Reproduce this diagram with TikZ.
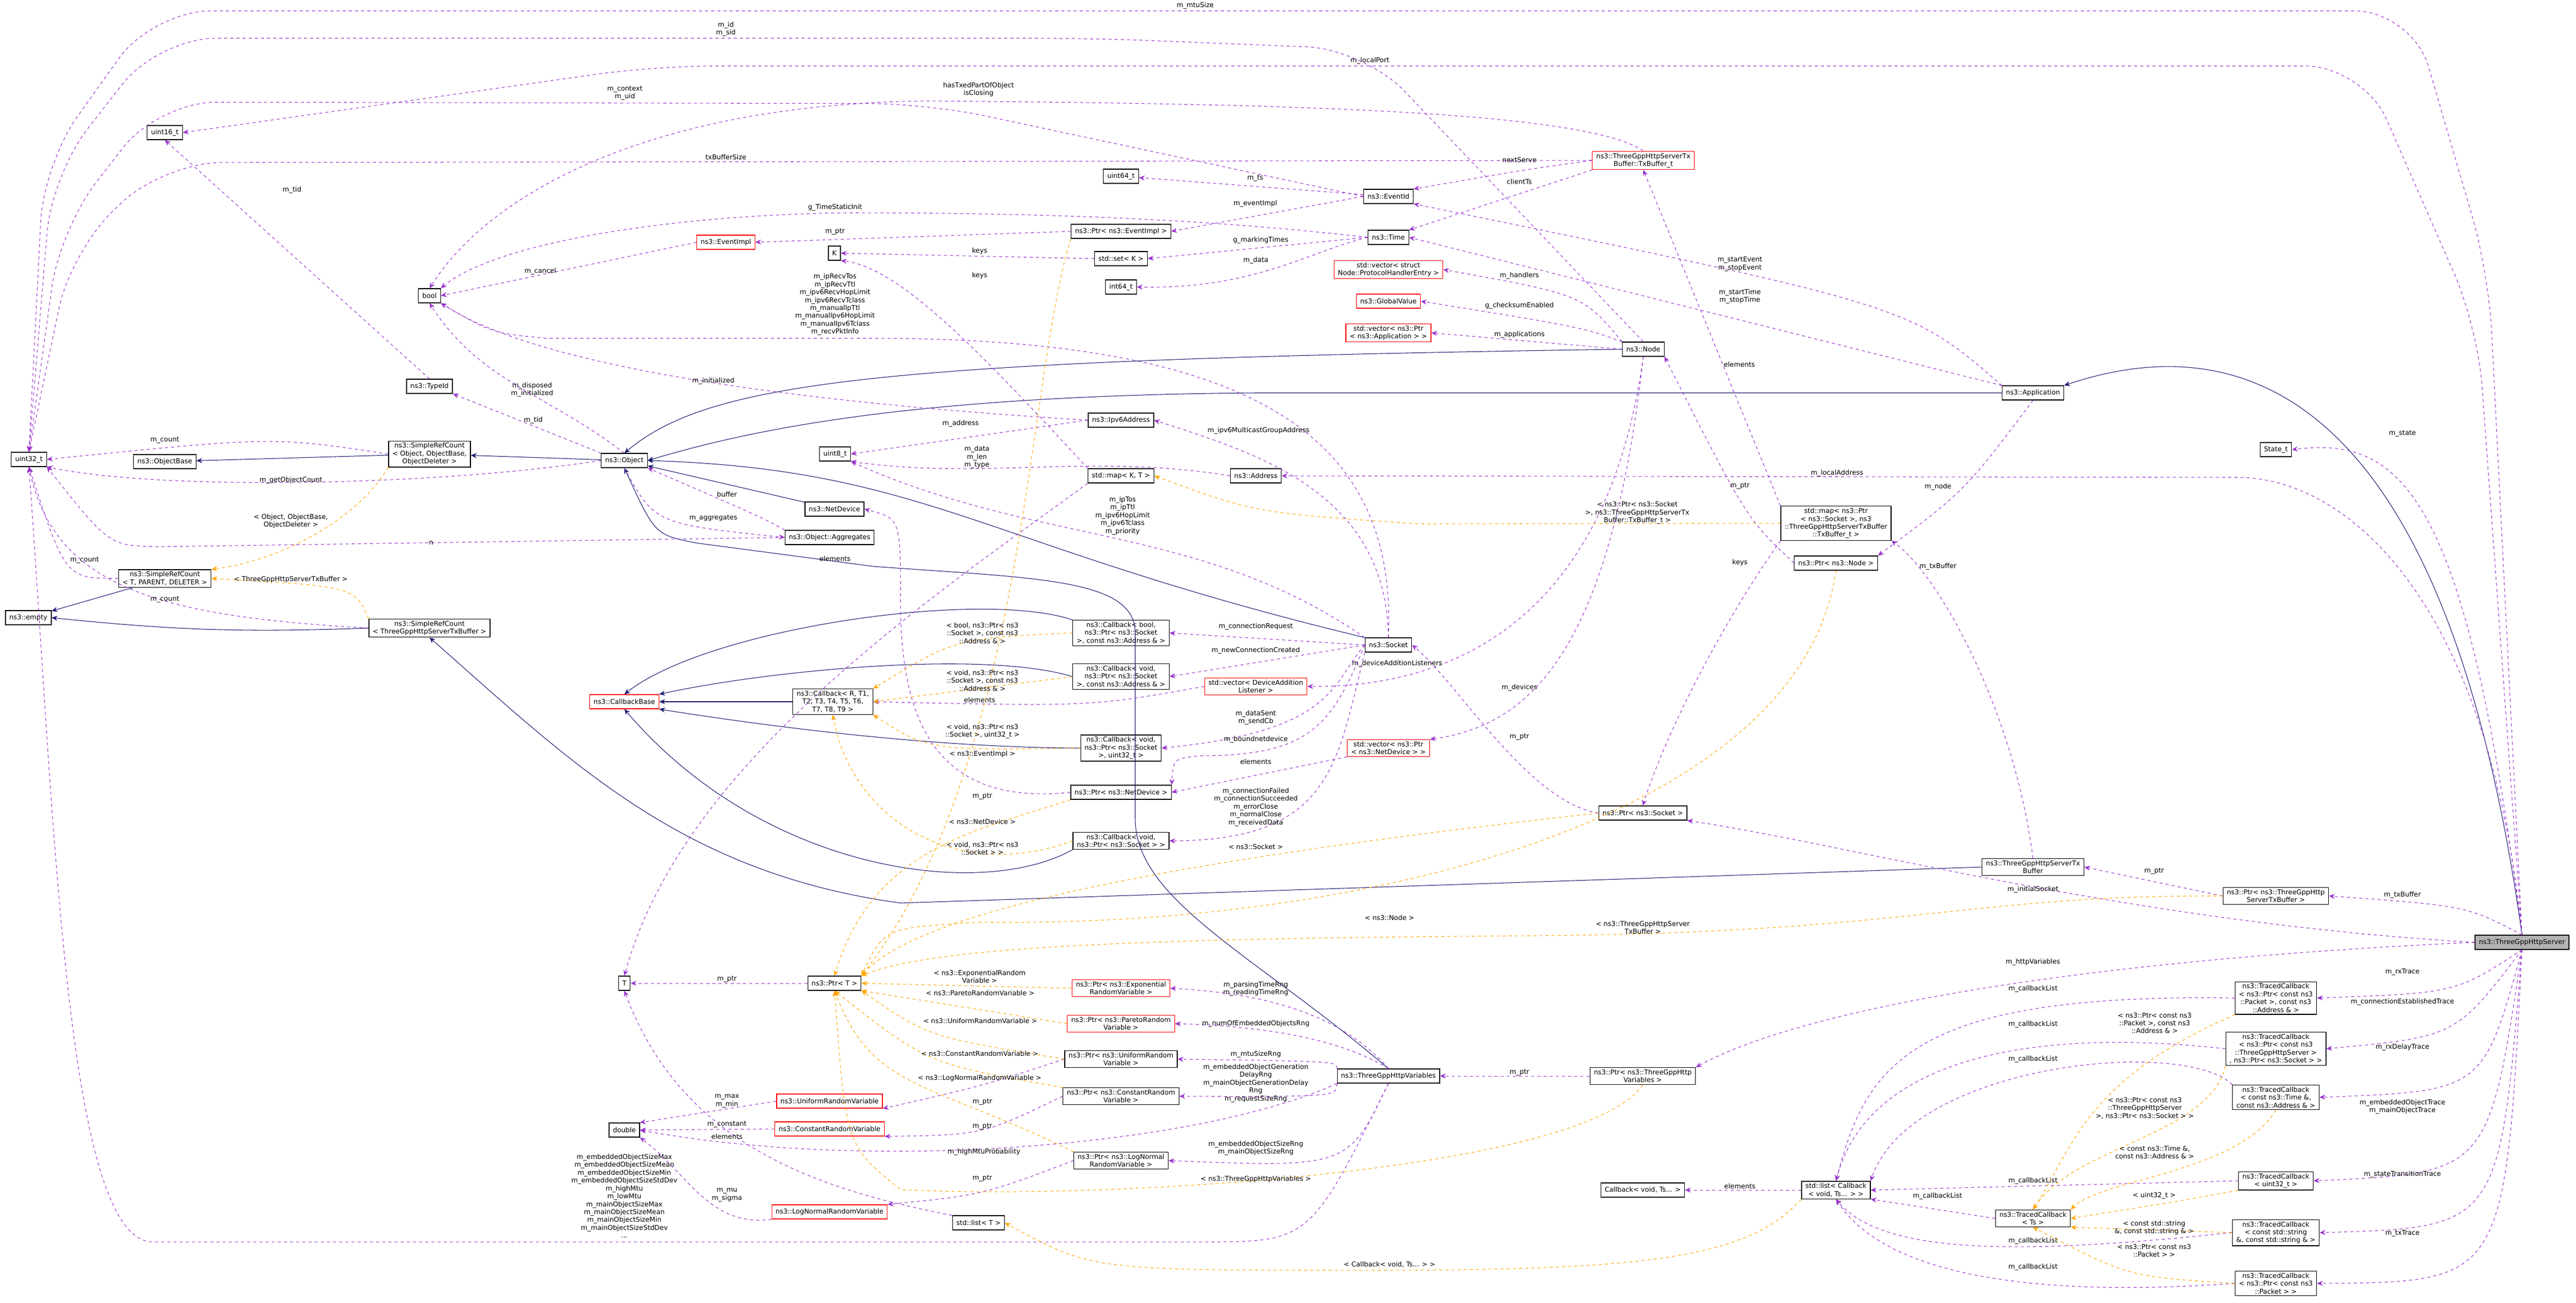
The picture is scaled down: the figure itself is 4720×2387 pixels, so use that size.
\documentclass[tikz,border=0pt]{standalone}
\usepackage{fontspec}
\setmainfont{DejaVu Sans}
\usetikzlibrary{arrows.meta,positioning}
\definecolor{edgepurple}{HTML}{9A32CD}
\definecolor{edgenavy}{HTML}{191970}
\definecolor{edgeorange}{HTML}{FFA500}
\newcommand{\dxfont}{\fontsize{3.5}{4.1}\selectfont}
\tikzset{
    cls/.style={
    rectangle,draw=black,fill=white,font=\dxfont,align=center,inner xsep=2pt,inner ysep=1pt,minimum height=7.4pt,line width=0.35pt
    },
    rcls/.style={
    cls,draw=red
    },
    hcls/.style={
    cls,fill=black!30
    },
    member/.style={
    draw=edgepurple,dash pattern=on 1.6pt off 1.6pt,line width=0.3pt,-{Stealth[length=3pt,width=2.6pt]}
    },
    templ/.style={
    member,draw=edgeorange
    },
    inherit/.style={
    draw=edgenavy,line width=0.3pt,-{Stealth[length=3pt,width=2.6pt]}
    },
    lbl/.style={
    font=\dxfont,align=center,inner sep=0.8pt
    },
}
\begin{document}
\begin{tikzpicture}[x=0.01cm,y=-0.01cm]
  \useasboundingbox (0,0) rectangle (4720,2387);
  % classes, left part
  \node[cls] (uint32) at (53,842) {uint32\_t};
  \node[cls] (uint16) at (302,243) {uint16\_t};
  \node[cls] (bool) at (787,542) {bool};
  \node[rcls] (evimpl) at (1330,444) {ns3::EventImpl};
  \node[cls] (K) at (1529,464) {K};
  \node[cls] (typeid) at (787,708) {ns3::TypeId};
  \node[cls] (srcobj) at (787,832) {ns3::SimpleRefCount\\< Object, ObjectBase,\\ObjectDeleter >};
  \node[cls] (objbase) at (302,846) {ns3::ObjectBase};
  \node[cls] (object) at (1144,844) {ns3::Object};
  \node[cls] (uint8) at (1530,832) {uint8\_t};
  \node[cls] (netdev) at (1529,933) {ns3::NetDevice};
  \node[cls] (aggr) at (1520,985) {ns3::Object::Aggregates};
  \node[cls] (srctpd) at (302,1060) {ns3::SimpleRefCount\\< T, PARENT, DELETER >};
  \node[cls] (empty) at (52,1132) {ns3::empty};
  \node[cls] (srctx) at (787,1151) {ns3::SimpleRefCount\\< ThreeGppHttpServerTxBuffer >};
  \node[rcls] (cbbase) at (1144,1286) {ns3::CallbackBase};
  \node[cls] (cbR) at (1526,1286) {ns3::Callback< R, T1,\\T2, T3, T4, T5, T6,\\T7, T8, T9 >};
  \node[cls] (ptrT) at (1529,1802) {ns3::Ptr< T >};
  \node[cls] (T) at (1144,1802) {T};
  \node[cls] (double) at (1144,2071) {double};
  \node[rcls] (unirv) at (1520,2018) {ns3::UniformRandomVariable};
  \node[rcls] (constrv) at (1520,2069) {ns3::ConstantRandomVariable};
  \node[rcls] (lognrv) at (1520,2221) {ns3::LogNormalRandomVariable};
  % classes, middle part
  \node[rcls] (txbt) at (3011,294) {ns3::ThreeGppHttpServerTx\\Buffer::TxBuffer\_t};
  \node[cls] (uint64) at (2054,323) {uint64\_t};
  \node[cls] (eventid) at (2544,360) {ns3::EventId};
  \node[cls] (ptrevimpl) at (2054,424) {ns3::Ptr< ns3::EventImpl >};
  \node[cls] (time) at (2544,435) {ns3::Time};
  \node[cls] (setK) at (2054,474) {std::set< K >};
  \node[cls] (int64) at (2054,526) {int64\_t};
  \node[rcls] (vecphe) at (2544,494) {std::vector< struct\\Node::ProtocolHandlerEntry >};
  \node[rcls] (globalval) at (2544,552) {ns3::GlobalValue};
  \node[rcls] (vecapp) at (2544,610) {std::vector< ns3::Ptr\\< ns3::Application > >};
  \node[cls] (node) at (3011,640) {ns3::Node};
  \node[cls] (ipv6) at (2054,770) {ns3::Ipv6Address};
  \node[cls] (mapKT) at (2054,872) {std::map< K, T >};
  \node[cls] (address) at (2301,872) {ns3::Address};
  \node[cls] (socket) at (2544,1182) {ns3::Socket};
  \node[cls] (cbbool) at (2054,1160) {ns3::Callback< bool,\\ns3::Ptr< ns3::Socket\\>, const ns3::Address \& >};
  \node[cls] (cbvaddr) at (2054,1240) {ns3::Callback< void,\\ns3::Ptr< ns3::Socket\\>, const ns3::Address \& >};
  \node[rcls] (veclist) at (2301,1258) {std::vector< DeviceAddition\\Listener >};
  \node[cls] (cbvu32) at (2054,1371) {ns3::Callback< void,\\ns3::Ptr< ns3::Socket\\>, uint32\_t >};
  \node[rcls] (vecnd) at (2544,1371) {std::vector< ns3::Ptr\\< ns3::NetDevice > >};
  \node[cls] (ptrnd) at (2054,1452) {ns3::Ptr< ns3::NetDevice >};
  \node[cls] (ptrsock) at (3010,1490) {ns3::Ptr< ns3::Socket >};
  \node[cls] (cbvsock) at (2054,1541) {ns3::Callback< void,\\ns3::Ptr< ns3::Socket > >};
  \node[rcls] (ptrexp) at (2054,1811) {ns3::Ptr< ns3::Exponential\\RandomVariable >};
  \node[rcls] (ptrpar) at (2054,1876) {ns3::Ptr< ns3::ParetoRandom\\Variable >};
  \node[cls] (ptruni) at (2054,1941) {ns3::Ptr< ns3::UniformRandom\\Variable >};
  \node[cls] (vars) at (2544,1972) {ns3::ThreeGppHttpVariables};
  \node[cls] (ptrvars) at (3010,1972) {ns3::Ptr< ns3::ThreeGppHttp\\Variables >};
  \node[cls] (ptrconst) at (2054,2009) {ns3::Ptr< ns3::ConstantRandom\\Variable >};
  \node[cls] (ptrlogn) at (2054,2127) {ns3::Ptr< ns3::LogNormal\\RandomVariable >};
  \node[cls] (listT) at (1793,2241) {std::list< T >};
  \node[cls] (cbvts) at (3010,2181) {Callback< void, Ts... >};
  % classes, right part
  \node[cls] (app) at (3725,720) {ns3::Application};
  \node[cls] (statet) at (4170,824) {State\_t};
  \node[cls] (mapsock) at (3364,959) {std::map< ns3::Ptr\\< ns3::Socket >, ns3\\::ThreeGppHttpServerTxBuffer\\::TxBuffer\_t >};
  \node[cls] (ptrnode) at (3364,1032) {ns3::Ptr< ns3::Node >};
  \node[cls] (txbuf) at (3725,1589) {ns3::ThreeGppHttpServerTx\\Buffer};
  \node[cls] (ptrtxbuf) at (4170,1642) {ns3::Ptr< ns3::ThreeGppHttp\\ServerTxBuffer >};
  \node[hcls] (srv) at (4621,1727) {ns3::ThreeGppHttpServer};
  \node[cls] (tc1) at (4170,1829) {ns3::TracedCallback\\< ns3::Ptr< const ns3\\::Packet >, const ns3\\::Address \& >};
  \node[cls] (tc2) at (4170,1922) {ns3::TracedCallback\\< ns3::Ptr< const ns3\\::ThreeGppHttpServer >\\, ns3::Ptr< ns3::Socket > >};
  \node[cls] (tc3) at (4170,2011) {ns3::TracedCallback\\< const ns3::Time \&,\\const ns3::Address \& >};
  \node[cls] (tc4) at (4170,2164) {ns3::TracedCallback\\< uint32\_t >};
  \node[cls] (listcb) at (3364,2181) {std::list< Callback\\< void, Ts... > >};
  \node[cls] (tcts) at (3725,2233) {ns3::TracedCallback\\< Ts >};
  \node[cls] (tc5) at (4170,2259) {ns3::TracedCallback\\< const std::string\\\&, const std::string \& >};
  \node[cls] (tc6) at (4170,2352) {ns3::TracedCallback\\< ns3::Ptr< const ns3\\::Packet > >};

  % inheritance
  \draw[inherit] (srcobj) -- (objbase);
  \draw[inherit] (object) -- (srcobj);
  \draw[inherit] (node.west) .. controls (1600,660) and (1300,700) .. (object.north);
  \draw[inherit] (app.west) -- (2300,720) .. controls (1700,725) and (1400,780) .. (object.east);
  \draw[inherit] (netdev) -- (object);
  \draw[inherit] (socket.north west) .. controls (1800,1000) and (1700,860) .. (object.east);
  \draw[inherit] (vars.north) .. controls (2300,1750) and (2080,1650) .. (2080,1500) -- (2080,1160) .. controls (2080,1060) and (1900,1060) .. (1600,1038) -- (1275,995) .. controls (1200,980) .. (object.south);
  \draw[inherit] (srctpd) -- (empty);
  \draw[inherit] (srctx.west) to[bend left=4] (empty.east);
  \draw[inherit] (txbuf.west) -- (1650,1655) .. controls (1250,1600) and (1050,1400) .. (srctx.south);
  \draw[inherit] (cbbool.north west) .. controls (1800,1080) and (1300,1150) .. (cbbase.north);
  \draw[inherit] (cbvaddr.west) .. controls (1800,1190) and (1400,1230) .. (cbbase.north east);
  \draw[inherit] (cbR) -- (cbbase);
  \draw[inherit] (cbvu32.west) .. controls (1700,1370) and (1400,1330) .. (cbbase.south east);
  \draw[inherit] (cbvsock.south west) .. controls (1800,1650) and (1400,1600) .. (cbbase.south);
  \draw[inherit] (srv.north) .. controls (4480,700) and (4100,600) .. (app.north east);

  % members
  \draw[member,rounded corners=30pt] (srv.north) -- (4560,500) -- (4420,20) -- (280,20) -- (80,300) -- (uint32.north) node[lbl,above] at (2190,20) {m\_mtuSize};
  \draw[member,rounded corners=30pt] (srv.north) -- (4540,600) -- (4330,121) -- (1200,121) -- (uint16.east) node[lbl,above] at (2510,121) {m\_localPort};
  \draw[member,rounded corners=30pt] (node.north) -- (2500,90) -- (2000,70) -- (290,70) -- (95,320) -- (uint32.north) node[lbl,above] at (1330,70) {m\_id\\m\_sid};
  \draw[member,rounded corners=30pt] (eventid.west) -- (1700,190) -- (290,187) -- (110,420) -- (uint32.north) node[lbl,above] at (1145,187) {m\_context\\m\_uid};
  \draw[member,rounded corners=30pt] (txbt.west) -- (300,298) -- (130,460) -- (uint32.north) node[lbl,above] at (1330,296) {txBufferSize};
  \draw[member] (txbt.north) .. controls (2900,200) and (2300,190) .. (1700,185) .. controls (1200,190) and (900,350) .. (bool.north) node[lbl] at (1793,164) {hasTxedPartOfObject\\isClosing};
  \draw[member] (eventid) -- (uint64) node[lbl] at (2300,327) {m\_ts};
  \draw[member] (ptrevimpl.west) -- (evimpl.east) node[lbl] at (1530,425) {m\_ptr};
  \draw[member] (evimpl.west) -- (bool.east) node[lbl] at (990,497) {m\_cancel};
  \draw[member] (time.west) .. controls (2200,400) and (1900,390) .. (1550,390) .. controls (1200,395) and (900,450) .. (bool.north east) node[lbl] at (1530,380) {g\_TimeStaticInit};
  \draw[member] (eventid.west) -- (ptrevimpl.east) node[lbl] at (2300,373) {m\_eventImpl};
  \draw[member] (time.west) -- (setK.east) node[lbl] at (2310,440) {g\_markingTimes};
  \draw[member] (setK.west) -- (K.east) node[lbl] at (1795,460) {keys};
  \draw[member] (time.west) .. controls (2400,460) and (2300,530) .. (int64.east) node[lbl] at (2301,477) {m\_data};
  \draw[member] (mapKT.north west) .. controls (1800,650) and (1650,490) .. (K.south east) node[lbl] at (1795,505) {keys};
  \draw[member] (node.north west) .. controls (2900,540) .. (vecphe.east) node[lbl] at (2784,505) {m\_handlers};
  \draw[member] (node.north west) .. controls (2900,600) .. (globalval.east) node[lbl] at (2784,560) {g\_checksumEnabled};
  \draw[member] (node.west) -- (vecapp.east) node[lbl] at (2784,613) {m\_applications};
  \draw[member] (socket.north) .. controls (2560,800) and (2300,620) .. (1600,620) -- (1000,620) .. controls (900,610) .. (bool.south east) node[lbl] at (1530,558) {m\_ipRecvTos\\m\_ipRecvTtl\\m\_ipv6RecvHopLimit\\m\_ipv6RecvTclass\\m\_manualIpTtl\\m\_manualIpv6HopLimit\\m\_manualIpv6Tclass\\m\_recvPktInfo};
  \draw[member] (object.north) .. controls (1000,720) and (880,700) .. (bool.south) node[lbl] at (975,714) {m\_disposed\\m\_initialized};
  \draw[member] (ipv6.west) .. controls (1500,740) and (1000,680) .. (bool.south east) node[lbl] at (1307,698) {m\_initialized};
  \draw[member] (object.north west) -- (typeid.south east) node[lbl] at (977,770) {m\_tid};
  \draw[member] (typeid.north) -- (uint16.south) node[lbl] at (535,348) {m\_tid};
  \draw[member] (srcobj.west) .. controls (500,800) .. (uint32.east) node[lbl] at (302,807) {m\_count};
  \draw[member] (object.west) .. controls (800,890) and (300,900) .. (uint32.south east) node[lbl] at (533,880) {m\_getObjectCount};
  \draw[member] (aggr.west) -- (290,1002) .. controls (200,1000) .. (uint32.south east) node[lbl] at (790,995) {n};
  \draw[member] (srctpd.west) .. controls (120,1060) .. (uint32.south) node[lbl] at (155,1027) {m\_count};
  \draw[member] (srctx.west) .. controls (300,1130) and (100,1080) .. (uint32.south) node[lbl] at (302,1099) {m\_count};
  \draw[member] (ipv6.west) -- (uint8.east) node[lbl] at (1760,776) {m\_address};
  \draw[member] (address.west) .. controls (2000,830) and (1800,880) .. (uint8.south east) node[lbl] at (1790,838) {m\_data\\m\_len\\m\_type};
  \draw[member] (socket.north west) .. controls (2200,960) and (1900,1000) .. (uint8.south east) node[lbl] at (2057,945) {m\_ipTos\\m\_ipTtl\\m\_ipv6HopLimit\\m\_ipv6Tclass\\m\_priority};
  \draw[member] (aggr.north west) .. controls (1400,950) .. (object.south east) node[lbl] at (1332,906) {buffer};
  \draw[member] (object.south) .. controls (1200,960) .. (aggr.west) node[lbl] at (1307,950) {m\_aggregates};
  \draw[member] (ptrnd.west) .. controls (1700,1480) and (1650,1300) .. (1650,1100) .. controls (1650,950) .. (netdev.east) node[lbl] at (1800,1460) {m\_ptr};
  \draw[member] (socket.north) .. controls (2540,900) and (2300,830) .. (ipv6.east) node[lbl] at (2306,789) {m\_ipv6MulticastGroupAddress};
  \draw[member] (srv.north) .. controls (4560,1100) and (4300,875) .. (4100,875) -- (address.east) node[lbl] at (3366,867) {m\_localAddress};
  \draw[member] (socket.west) -- (cbbool.east) node[lbl] at (2301,1148) {m\_connectionRequest};
  \draw[member] (socket.west) -- (cbvaddr.east) node[lbl] at (2301,1192) {m\_newConnectionCreated};
  \draw[member] (node.south) .. controls (2950,1100) and (2700,1260) .. (veclist.east) node[lbl] at (2560,1216) {m\_deviceAdditionListeners};
  \draw[member] (veclist.west) .. controls (2000,1295) .. (cbR.east) node[lbl] at (1795,1283) {elements};
  \draw[member] (socket.west) .. controls (2440,1250) and (2450,1340) .. (cbvu32.east) node[lbl] at (2301,1315) {m\_dataSent\\m\_sendCb};
  \draw[member] (socket.west) .. controls (2440,1330) and (2400,1385) .. (2200,1385) .. controls (2150,1390) .. (ptrnd.north east) node[lbl] at (2301,1355) {m\_boundnetdevice};
  \draw[member] (vecnd.south west) -- (ptrnd.east) node[lbl] at (2301,1396) {elements};
  \draw[member] (node.south) .. controls (2950,1200) and (2800,1330) .. (vecnd.north east) node[lbl] at (2784,1260) {m\_devices};
  \draw[member] (socket.south west) .. controls (2450,1400) and (2440,1540) .. (cbvsock.east) node[lbl] at (2301,1479) {m\_connectionFailed\\m\_connectionSucceeded\\m\_errorClose\\m\_normalClose\\m\_receivedData};
  \draw[member] (ptrsock.west) .. controls (2800,1470) and (2670,1250) .. (socket.east) node[lbl] at (2784,1351) {m\_ptr};
  \draw[member] (mapsock.south west) .. controls (3150,1150) and (3050,1350) .. (ptrsock.north) node[lbl] at (3188,1031) {keys};
  \draw[member] (mapsock.north west) -- (txbt.south) node[lbl] at (3187,668) {elements};
  \draw[member] (ptrnode.west) .. controls (3200,950) .. (node.south east) node[lbl] at (3188,891) {m\_ptr};
  \draw[member] (app.south) .. controls (3600,900) .. (ptrnode.north east) node[lbl] at (3551,892) {m\_node};
  \draw[member] (app.north west) .. controls (3500,560) .. (eventid.south east) node[lbl] at (3188,484) {m\_startEvent\\m\_stopEvent};
  \draw[member] (app.north west) -- (time.east) node[lbl] at (3188,543) {m\_startTime\\m\_stopTime};
  \draw[member] (txbt.west) .. controls (2800,310) .. (eventid.north east) node[lbl] at (2784,293) {nextServe};
  \draw[member] (txbt.south west) -- (time.north east) node[lbl] at (2784,333) {clientTs};
  \draw[member] (txbuf.north) .. controls (3690,1300) and (3550,1050) .. (mapsock.south east) node[lbl] at (3551,1038) {m\_txBuffer};
  \draw[member] (ptrtxbuf.west) -- (txbuf.east) node[lbl] at (3947,1597) {m\_ptr};
  \draw[member] (srv.north) .. controls (4520,1660) .. (ptrtxbuf.east) node[lbl] at (4402,1640) {m\_txBuffer};
  \draw[member] (srv.west) .. controls (3900,1690) and (3400,1550) .. (ptrsock.south east) node[lbl] at (3725,1630) {m\_initialSocket};
  \draw[member] (srv.north) .. controls (4520,900) and (4400,800) .. (statet.east) node[lbl] at (4402,795) {m\_state};
  \draw[member] (srv.west) .. controls (3800,1760) and (3300,1850) .. (ptrvars.north east) node[lbl] at (3725,1763) {m\_httpVariables};
  \draw[member] (ptrvars.west) -- (vars.east) node[lbl] at (2784,1966) {m\_ptr};
  \draw[member] (vars.north) .. controls (2450,1850) and (2300,1820) .. (ptrexp.east) node[lbl] at (2301,1812) {m\_parsingTimeRng\\m\_readingTimeRng};
  \draw[member] (vars.north) .. controls (2450,1900) and (2300,1880) .. (ptrpar.east) node[lbl] at (2301,1876) {m\_numOfEmbeddedObjectsRng};
  \draw[member] (vars.north west) .. controls (2450,1945) .. (ptruni.east) node[lbl] at (2301,1932) {m\_mtuSizeRng};
  \draw[member] (vars.south west) .. controls (2450,2010) .. (ptrconst.east) node[lbl] at (2301,1985) {m\_embeddedObjectGeneration\\DelayRng\\m\_mainObjectGenerationDelay\\Rng\\m\_requestSizeRng};
  \draw[member] (vars.south) .. controls (2470,2140) .. (ptrlogn.east) node[lbl] at (2301,2104) {m\_embeddedObjectSizeRng\\m\_mainObjectSizeRng};
  \draw[member] (vars.south west) .. controls (2200,2100) and (1600,2150) .. (double.east) node[lbl] at (1803,2111) {m\_highMtuProbability};
  \draw[member] (vars.south) .. controls (2400,2276) .. (2200,2276) -- (280,2276) .. controls (120,2276) and (100,1500) .. (uint32.south) node[lbl,anchor=south] at (1144,2272) {m\_embeddedObjectSizeMax\\m\_embeddedObjectSizeMean\\m\_embeddedObjectSizeMin\\m\_embeddedObjectSizeStdDev\\m\_highMtu\\m\_lowMtu\\m\_mainObjectSizeMax\\m\_mainObjectSizeMean\\m\_mainObjectSizeMin\\m\_mainObjectSizeStdDev\\...};
  \draw[member] (ptruni.west) .. controls (1800,1990) .. (unirv.south east) node[lbl] at (1800,2020) {m\_ptr};
  \draw[member] (ptrconst.west) .. controls (1800,2080) .. (constrv.south east) node[lbl] at (1800,2065) {m\_ptr};
  \draw[member] (ptrlogn.west) .. controls (1800,2190) .. (lognrv.north east) node[lbl] at (1800,2160) {m\_ptr};
  \draw[member] (ptrT) -- (T) node[lbl] at (1332,1795) {m\_ptr};
  \draw[member] (unirv.west) -- (double.north east) node[lbl] at (1332,2018) {m\_max\\m\_min};
  \draw[member] (constrv.west) -- (double.east) node[lbl] at (1332,2061) {m\_constant};
  \draw[member] (lognrv.south west) .. controls (1300,2250) and (1260,2150) .. (double.south east) node[lbl] at (1332,2190) {m\_mu\\m\_sigma};
  \draw[member] (mapKT.south west) .. controls (1700,1100) and (1250,1400) .. (T.north) node[lbl] at (1530,1024) {elements};
  \draw[member] (listT.north west) .. controls (1500,2180) and (1250,2100) .. (T.south) node[lbl] at (1332,2083) {elements};
  \draw[member] (listcb.west) -- (cbvts.east) node[lbl] at (3188,2174) {elements};
  \draw[member] (tc1.west) .. controls (3500,1820) and (3420,1950) .. (listcb.north) node[lbl] at (3725,1812) {m\_callbackList};
  \draw[member] (tc2.west) .. controls (3700,1880) and (3420,1950) .. (listcb.north) node[lbl] at (3725,1877) {m\_callbackList};
  \draw[member] (tc3.north west) .. controls (4000,1900) and (3500,1950) .. (listcb.north east) node[lbl] at (3725,1941) {m\_callbackList};
  \draw[member] (tc4.west) -- (listcb.east) node[lbl] at (3725,2164) {m\_callbackList};
  \draw[member] (tcts.west) -- (listcb.south east) node[lbl] at (3550,2192) {m\_callbackList};
  \draw[member] (tc5.west) .. controls (3700,2300) and (3450,2300) .. (listcb.south) node[lbl] at (3725,2274) {m\_callbackList};
  \draw[member] (tc6.west) .. controls (3700,2380) and (3450,2330) .. (listcb.south) node[lbl] at (3725,2322) {m\_callbackList};
  \draw[member] (srv.south) .. controls (4500,1820) .. (tc1.east) node[lbl] at (4402,1781) {m\_rxTrace};
  \draw[member] (srv.south) .. controls (4500,1900) .. (tc2.east) node[lbl] at (4402,1836) {m\_connectionEstablishedTrace};
  \draw[member] (srv.south) .. controls (4550,2000) .. (tc3.east) node[lbl] at (4402,1919) {m\_rxDelayTrace};
  \draw[member] (srv.south) .. controls (4560,2150) .. (tc4.east) node[lbl] at (4402,2028) {m\_embeddedObjectTrace\\m\_mainObjectTrace};
  \draw[member] (srv.south) .. controls (4580,2250) .. (tc5.east) node[lbl] at (4402,2152) {m\_stateTransitionTrace};
  \draw[member] (srv.south) .. controls (4590,2350) .. (tc6.east) node[lbl] at (4402,2260) {m\_txTrace};

  % template instances
  \draw[templ] (srcobj.south west) .. controls (650,960) and (500,1030) .. (srctpd.north east) node[lbl] at (533,955) {< Object, ObjectBase,\\ObjectDeleter >};
  \draw[templ] (srctx.north west) .. controls (650,1075) .. (srctpd.east) node[lbl] at (533,1062) {< ThreeGppHttpServerTxBuffer >};
  \draw[templ] (mapsock.west) -- (2600,960) .. controls (2300,940) .. (mapKT.east) node[lbl] at (3000,940) {< ns3::Ptr< ns3::Socket\\>, ns3::ThreeGppHttpServerTx\\Buffer::TxBuffer\_t >};
  \draw[templ] (ptrevimpl.south west) .. controls (1880,700) and (1880,1400) .. (ptrT.north east) node[lbl] at (1800,1382) {< ns3::EventImpl >};
  \draw[templ] (cbbool.west) .. controls (1750,1170) .. (cbR.north east) node[lbl] at (1800,1160) {< bool, ns3::Ptr< ns3\\::Socket >, const ns3\\::Address \& >};
  \draw[templ] (cbvaddr.west) -- (cbR.east) node[lbl] at (1800,1247) {< void, ns3::Ptr< ns3\\::Socket >, const ns3\\::Address \& >};
  \draw[templ] (cbvu32.west) .. controls (1700,1375) .. (cbR.south east) node[lbl] at (1800,1340) {< void, ns3::Ptr< ns3\\::Socket >, uint32\_t >};
  \draw[templ] (cbvsock.west) .. controls (1750,1620) and (1560,1500) .. (cbR.south) node[lbl] at (1800,1555) {< void, ns3::Ptr< ns3\\::Socket > >};
  \draw[templ] (ptrnd.south west) .. controls (1800,1520) and (1600,1550) .. (ptrT.north) node[lbl] at (1800,1506) {< ns3::NetDevice >};
  \draw[templ] (ptrsock.west) .. controls (2300,1560) and (1700,1650) .. (ptrT.north east) node[lbl] at (2301,1552) {< ns3::Socket >};
  \draw[templ] (ptrnode.south) .. controls (3300,1500) and (2500,1700) .. (1800,1690) .. controls (1620,1700) .. (ptrT.north east) node[lbl] at (2546,1682) {< ns3::Node >};
  \draw[templ] (ptrtxbuf.west) .. controls (3600,1640) and (3500,1710) .. (2800,1715) .. controls (2000,1720) and (1700,1740) .. (ptrT.north east) node[lbl] at (3010,1700) {< ns3::ThreeGppHttpServer\\TxBuffer >};
  \draw[templ] (ptrexp.west) -- (ptrT.east) node[lbl] at (1795,1790) {< ns3::ExponentialRandom\\Variable >};
  \draw[templ] (ptrpar.west) -- (ptrT.south east) node[lbl] at (1796,1820) {< ns3::ParetoRandomVariable >};
  \draw[templ] (ptruni.west) .. controls (1700,1900) .. (ptrT.south east) node[lbl] at (1796,1871) {< ns3::UniformRandomVariable >};
  \draw[templ] (ptrconst.north west) .. controls (1700,1950) .. (ptrT.south) node[lbl] at (1795,1931) {< ns3::ConstantRandomVariable >};
  \draw[templ] (ptrlogn.north west) .. controls (1700,1980) and (1600,2000) .. (ptrT.south) node[lbl] at (1795,1976) {< ns3::LogNormalRandomVariable >};
  \draw[templ] (ptrvars.south) .. controls (2900,2150) and (2000,2200) .. (1650,2180) .. controls (1550,2100) .. (ptrT.south) node[lbl] at (2301,2161) {< ns3::ThreeGppHttpVariables >};
  \draw[templ] (listcb.south west) .. controls (3200,2310) and (3000,2328) .. (2500,2328) .. controls (2000,2328) .. (listT.east) node[lbl] at (2546,2318) {< Callback< void, Ts... > >};
  \draw[templ] (tc1.south west) .. controls (3820,1980) and (3800,2100) .. (tcts.north) node[lbl] at (3948,1875) {< ns3::Ptr< const ns3\\::Packet >, const ns3\\::Address \& >};
  \draw[templ] (tc2.south west) .. controls (4050,2080) and (3800,2100) .. (tcts.north) node[lbl] at (3930,2031) {< ns3::Ptr< const ns3\\::ThreeGppHttpServer\\>, ns3::Ptr< ns3::Socket > >};
  \draw[templ] (tc3.south) .. controls (4100,2150) and (3850,2160) .. (tcts.north east) node[lbl] at (3948,2112) {< const ns3::Time \&,\\const ns3::Address \& >};
  \draw[templ] (tc4.south west) .. controls (4000,2200) .. (tcts.east) node[lbl] at (3947,2191) {< uint32\_t >};
  \draw[templ] (tc5.west) -- (tcts.south east) node[lbl] at (3947,2250) {< const std::string\\\&, const std::string \& >};
  \draw[templ] (tc6.west) .. controls (3900,2340) .. (tcts.south) node[lbl] at (3947,2292) {< ns3::Ptr< const ns3\\::Packet > >};
\end{tikzpicture}
\end{document}
